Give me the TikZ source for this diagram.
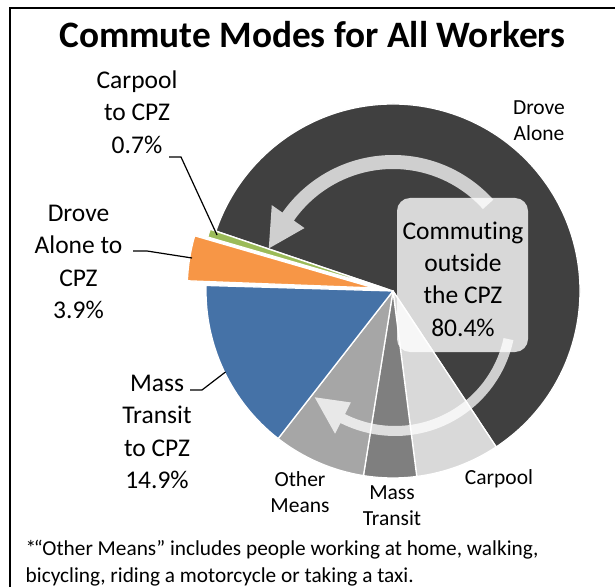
\documentclass[tikz,border=0pt]{standalone}
\usepackage{fontspec}
\setmainfont{Carlito}[Ligatures={NoCommon}]
\usetikzlibrary{calc}
\definecolor{darkslice}{HTML}{404040}
\definecolor{carpoolc}{HTML}{D9D9D9}
\definecolor{massc}{HTML}{7F7F7F}
\definecolor{otherc}{HTML}{A6A6A6}
\definecolor{bluec}{RGB}{69,114,167}
\definecolor{orangec}{HTML}{F79646}
\definecolor{greenc}{HTML}{9BBB59}
\tikzset{
  slice/.style={draw=white, line width=1.3pt, line join=round},
  biglbl/.style={inner sep=0pt, align=center, font=\fontsize{25.5}{32.4}\selectfont},
  smllbl/.style={inner sep=0pt, align=center, font=\fontsize{21.5}{26.3}\selectfont},
  leader/.style={draw=black, line width=1.2pt},
  circarrow/.style={fill=white, fill opacity=0.75},
  outsidebox/.style={fill=white, fill opacity=0.8, rounded corners=13pt},
  frameline/.style={draw=black, line width=2.6pt}
}
\begin{document}
\begin{tikzpicture}[x=1pt,y=1pt]
\useasboundingbox (0,0) rectangle (615,587);
\fill[white] (0,0) rectangle (615,587);
\def\R{187}
\coordinate (O) at (393,296);
\coordinate (Oor) at ($(O)+(170.8:19)$);
\coordinate (Ogr) at ($(O)+(162.5:6)$);
% slices
\path[slice, fill=darkslice] (O) -- ($(O)+(-56.5:\R)$) arc[start angle=-56.5, end angle=161.3, radius=\R] -- cycle;
\path[slice, fill=carpoolc] (O) -- ($(O)+(277.3:\R)$) arc[start angle=277.3, end angle=303.5, radius=\R] -- cycle;
\path[slice, fill=massc] (O) -- ($(O)+(260.9:\R)$) arc[start angle=260.9, end angle=277.3, radius=\R] -- cycle;
\path[slice, fill=otherc] (O) -- ($(O)+(232.1:\R)$) arc[start angle=232.1, end angle=260.9, radius=\R] -- cycle;
\path[slice, fill=bluec] (O) -- ($(O)+(178.3:\R)$) arc[start angle=178.3, end angle=232.1, radius=\R] -- cycle;
\path[slice, fill=orangec] (Oor) -- ($(Oor)+(163.8:\R)$) arc[start angle=163.8, end angle=177.8, radius=\R] -- cycle;
\path[slice, fill=greenc] (Ogr) -- ($(Ogr)+(161.3:\R)$) arc[start angle=161.3, end angle=163.8, radius=\R] -- cycle;
% circular arrows
\coordinate (C1) at (393,297);
\coordinate (C2) at (395,272);
\path[circarrow] ($(C1)+(42:135)$) arc[start angle=42, end angle=145, radius=135]
  -- ($(C1)+(145:148)$) -- ($(C1)+(161.5:131)$) -- ($(C1)+(145:108)$)
  -- ($(C1)+(145:121)$) arc[start angle=145, end angle=42, radius=121] -- cycle;
\path[circarrow] ($(C2)+(-12:121)$) arc[start angle=-12, end angle=-116.8, radius=121]
  -- ($(C2)+(-116.8:133)$) -- ($(C2)+(-134.3:115)$) -- ($(C2)+(-116.8:98)$)
  -- ($(C2)+(-116.8:111)$) arc[start angle=-116.8, end angle=-12, radius=111] -- cycle;
% box
\path[outsidebox] (397,235) rectangle (528,389);
\node[biglbl] (outside) at (463,308) {Commuting\\outside\\the CPZ\\80.4\%};
% title
\node[inner sep=0pt, font=\fontsize{37.3}{44}\selectfont\bfseries] (title) at (312.5,552) {Commute Modes for All Workers};
% labels
\node[biglbl] (carpoolcpz) at (137,475) {Carpool\\to CPZ\\0.7\%};
\node[biglbl] (drovecpz) at (78.5,325) {Drove\\Alone to\\CPZ\\3.9\%};
\node[biglbl] (masscpz) at (157,155) {Mass\\Transit\\to CPZ\\14.9\%};
\node[smllbl] (drovealone) at (539,466) {Drove\\Alone};
\node[smllbl] (othermeans) at (300,95) {Other\\Means};
\node[smllbl] (masstransit) at (392,81) {Mass\\Transit};
\node[smllbl] (carpool) at (499,108) {Carpool};
% leaders
\coordinate (lc1) at (169,430);
\coordinate (lc2) at (217,352);
\coordinate (ld1) at (133,336);
\coordinate (ld2) at (192,329);
\coordinate (lm1) at (190,197);
\coordinate (lm2) at (225.5,215);
\draw[leader] (lc1) -- ++(12,0) -- (lc2);
\draw[leader] (ld1) -- ++(14,0) -- (ld2);
\draw[leader] (lm1) -- ++(12,0) -- (lm2);
% footnote
\node[inner sep=0pt, anchor=west, align=left, font=\fontsize{21.3}{27}\selectfont] (foot) at (25.5,23.5)
  {*\kern-2.5pt“Other Means” includes people working at home, walking,\\bicycling, riding a motorcycle or taking a taxi.};
% frame (left and top only)
\draw[frameline] (10,0) -- (10,579) -- (615,579);
\end{tikzpicture}
\end{document}
